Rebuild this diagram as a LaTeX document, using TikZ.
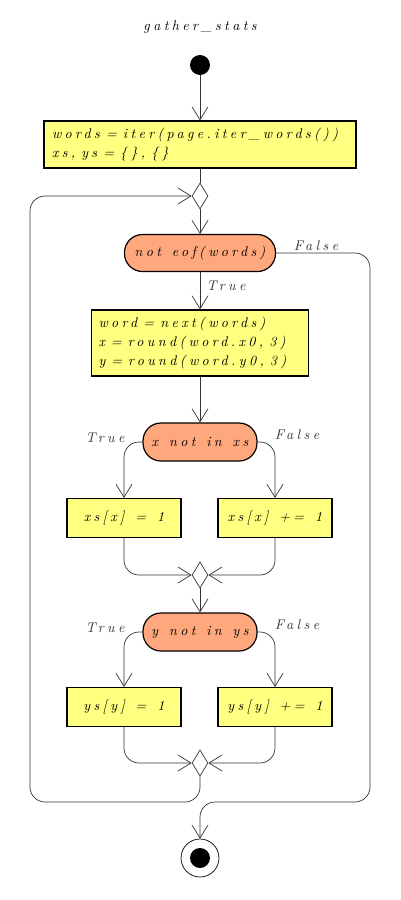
\documentclass[tikz,border=0pt]{standalone}
\usepackage{fontspec}
\usetikzlibrary{arrows.meta,shapes.geometric}
\definecolor{actfill}{HTML}{FFFF80}
\definecolor{testfill}{HTML}{FFA87D}
\newfontfamily\codefam{lmroman10-italic.otf}[LetterSpace=24,WordSpace={1.3,0,0}]
\newcommand\codefont{\fontsize{14}{18.7}\selectfont\codefam}

\begin{document}
\begin{tikzpicture}[x=1pt,y=-1pt,
  font=\codefont,
  every node/.style={text=black},
  line/.style={line width=0.7pt,draw=black!80},
  flow/.style={line,-{Straight Barb[length=13pt,width=16pt]}},
  action/.style={draw,line width=1.2pt,fill=actfill,minimum height=39pt},
  block/.style={action,align=left,execute at begin node={\spaceskip=6.1pt\relax}},
  test/.style={draw,line width=1.2pt,fill=testfill,rounded corners=18pt,minimum height=38pt,minimum width=114pt},
  merge/.style={diamond,line,fill=white,minimum width=16pt,minimum height=26pt,inner sep=0pt},
  lbl/.style={text=black!80}]
\useasboundingbox (0,0) rectangle (400,900);

\node (title) at (200,27) {gather\_stats};
\node[circle,fill=black,minimum size=20pt,inner sep=0pt] (start) at (200,65) {};
\node[block,text width=296pt,inner xsep=8pt,minimum height=47pt] (init) at (200,144.5)
  {words = iter(page.iter\_words())\\xs, ys = \{\}, \{\}};
\node[merge] (m1) at (200,196) {};
\node[test,minimum width=151pt,minimum height=37pt] (eof) at (200,253) {not eof(words)};
\node[block,text width=203pt,inner xsep=7pt,minimum height=66pt] (next) at (200,343)
  {word = next(words)\\x = round(word.x0, 3)\\y = round(word.y0, 3)};
\node[test] (xtest) at (200,442) {x not in xs};
\node[action,minimum width=114pt] (xnew) at (124,518) {xs[x] = 1};
\node[action,minimum width=114pt] (xinc) at (275,518) {xs[x] += 1};
\node[merge] (m2) at (200,575) {};
\node[test] (ytest) at (200,632) {y not in ys};
\node[action,minimum width=114pt] (ynew) at (124,707) {ys[y] = 1};
\node[action,minimum width=114pt] (yinc) at (275,707) {ys[y] += 1};
\node[merge] (m3) at (200,763) {};
\node[circle,draw,line width=0.7pt,minimum size=38pt,inner sep=0pt] (stop) at (200,858) {};
\fill (stop) circle (10pt);

\node[lbl] (eofno) at (316,246) {False};
\node[lbl] (eofyes) at (226,286) {True};
\node[lbl] (xyes) at (105,438) {True};
\node[lbl] (xno) at (297,435) {False};
\node[lbl] (yyes) at (105,628) {True};
\node[lbl] (yno) at (297,625) {False};

\coordinate (loopbl) at (30,802);
\coordinate (exitbr) at (370,802);

\draw[flow] (start) -- (init);
\draw[line] (init) -- (m1);
\draw[flow] (m1) -- (eof);
\draw[flow] (eof) -- (next);
\draw[flow] (next) -- (xtest);
\draw[flow,rounded corners=15pt] (xtest.west) -| (xnew.north);
\draw[flow,rounded corners=15pt] (xtest.east) -| (xinc.north);
\draw[flow,rounded corners=15pt] (xnew.south) |- (m2.west);
\draw[flow,rounded corners=15pt] (xinc.south) |- (m2.east);
\draw[flow] (m2) -- (ytest);
\draw[flow,rounded corners=15pt] (ytest.west) -| (ynew.north);
\draw[flow,rounded corners=15pt] (ytest.east) -| (yinc.north);
\draw[flow,rounded corners=15pt] (ynew.south) |- (m3.west);
\draw[flow,rounded corners=15pt] (yinc.south) |- (m3.east);
\draw[flow,rounded corners=15pt] (m3.south) |- (loopbl) |- (m1.west);
\draw[flow,rounded corners=15pt] (eof.east) -| (exitbr) -| (stop.north);
\end{tikzpicture}
\end{document}
